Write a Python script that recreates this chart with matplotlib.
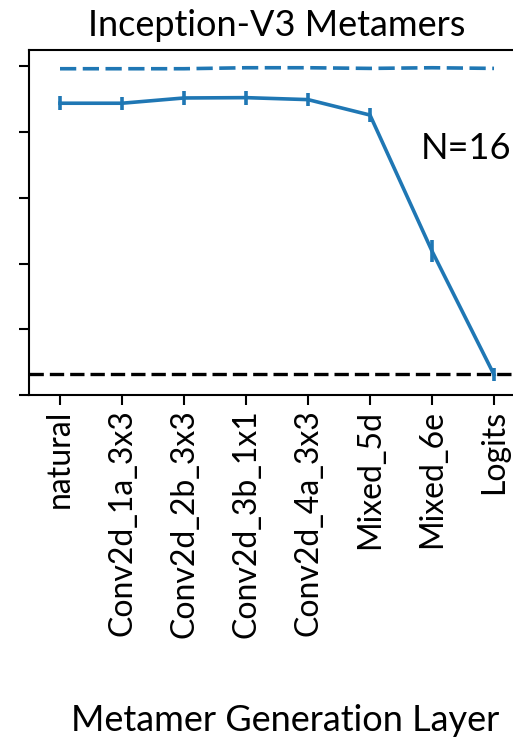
import numpy as np
import matplotlib
matplotlib.use('Agg')
import matplotlib.pyplot as plt

plt.rcParams['font.family'] = ['Lato', 'DejaVu Sans']

layers = ['natural', 'Conv2d_1a_3x3', 'Conv2d_2b_3x3', 'Conv2d_3b_1x1',
          'Conv2d_4a_3x3', 'Mixed_5d', 'Mixed_6e', 'Logits']
# human performance on metamers, with error bars
human_acc = [0.888, 0.888, 0.904, 0.905, 0.899, 0.852, 0.438, 0.062]
human_err = [0.021, 0.020, 0.022, 0.021, 0.020, 0.020, 0.034, 0.020]
# network performance on its own metamers
model_acc = [0.993, 0.993, 0.993, 0.996, 0.996, 0.994, 0.996, 0.994]
chance = 1. / 16

fig = plt.figure(figsize=(5.13, 7.41), dpi=100)
ax = fig.add_axes([29/513., 346/741., 496/513., 345/741.])

x = np.arange(len(layers))
ax.errorbar(x, human_acc, yerr=human_err, color='#1f77b4', lw=2.6,
            elinewidth=2.6, capsize=0)
ax.plot(x, model_acc, color='#1f77b4', lw=2.6, ls='--', dashes=(4.5, 1.8))
ax.axhline(chance, color='k', lw=2.4, ls='--', dashes=(4.3, 1.8))

ax.set_xlim(-0.5, 7.5)
ax.set_ylim(0, 1.05)
ax.set_yticks(np.arange(0, 1.01, 0.2))
ax.set_yticklabels([])
ax.set_xticks(x)
ax.set_xticklabels(layers, rotation=90, fontsize=23)
ax.tick_params(axis='both', direction='out', length=7, width=1.5)
for s in ax.spines.values():
    s.set_linewidth(1.5)

ax.text(0.79, 0.715, 'N=16', transform=ax.transAxes, fontsize=26,
        ha='left', va='center')
ax.set_title('Inception-V3 Metamers', fontsize=26, pad=10)
fig.text(0.555, 0.028, 'Metamer Generation Layer', fontsize=26,
         ha='center', va='center')

fig.savefig('out.png', dpi=100)
